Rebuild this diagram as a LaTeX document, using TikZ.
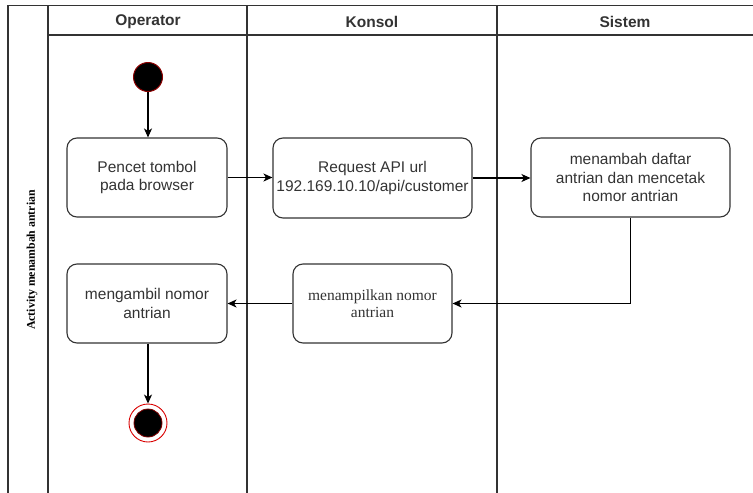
\documentclass[tikz,border=0pt]{standalone}
\usepackage{fontspec}
\setmainfont{Liberation Sans}
\newfontfamily\serifface{Liberation Serif}
\usetikzlibrary{arrows.meta}
\definecolor{linegray}{HTML}{333333}
\definecolor{textgray}{HTML}{333333}
\tikzset{
  lane/.style={draw=linegray, line width=1.2pt},
  actbox/.style={draw=linegray, line width=1.1pt, rounded corners=10pt, align=center,
    inner sep=0pt, text=textgray, font=\fontsize{15.5}{18.5}\selectfont},
  flow/.style={draw=black, line width=1.1pt, -{Stealth[length=9pt,width=8pt,inset=2.5pt]}},
  hdr/.style={font=\bfseries\fontsize{15.5}{18}\selectfont, text=black!80},
}
\begin{document}
\begin{tikzpicture}[x=1pt,y=-1pt]
\useasboundingbox (0,0) rectangle (753,493);
% swimlane frame
\draw[lane] (8,493) -- (8,5.5) -- (753,5.5);
\draw[lane] (48,35) -- (753,35);
\draw[lane] (48,5.5) -- (48,493);
\draw[lane] (247,5.5) -- (247,493);
\draw[lane] (497,5.5) -- (497,493);
% headers
\node[hdr] (hop) at (148,22) {Operator};
\node[hdr] (hko) at (372,22) {Konsol};
\node[hdr] (hsi) at (625,22) {Sistem};
\node[rotate=90, font=\serifface\bfseries\fontsize{11.8}{13}\selectfont] (pool) at (32,260) {Activity menambah antrian};
% start
\node[circle, fill=black, draw=red!55!black, line width=1pt, minimum size=29pt, inner sep=0pt] (start) at (148,77) {};
% boxes
\node[actbox, minimum width=160pt, minimum height=79pt] (b1) at (147,177.5) {Pencet tombol\\pada browser};
\node[actbox, minimum width=199pt, minimum height=80pt] (b2) at (372.5,178) {Request API url\\192.169.10.10/api/customer};
\node[actbox, minimum width=199pt, minimum height=79pt] (b3) at (630.5,177.5) {menambah daftar\\antrian dan mencetak\\nomor antrian};
\node[actbox, minimum width=159pt, minimum height=79pt, font=\serifface\fontsize{15.5}{17}\selectfont] (b4) at (372.5,303.5) {menampilkan nomor\\antrian};
\node[actbox, minimum width=160pt, minimum height=79pt] (b5) at (147,303.5) {mengambil nomor\\antrian};
% end
\node[circle, draw=red!85!black, line width=0.9pt, minimum size=38pt, inner sep=0pt] (end) at (148,423) {};
\node[circle, fill=black, draw=red!50!black, line width=0.8pt, minimum size=28pt, inner sep=0pt] (endin) at (end) {};
% flows
\draw[flow] (start.south) -- (b1.north -| start.south);
\draw[flow] (b1.east) -- (b2.west |- b1.east);
\draw[flow] (b2.east) -- (b3.west |- b2.east);
\draw[flow] (b3.south) |- (b4.east);
\draw[flow] (b4.west) -- (b5.east);
\draw[flow] (b5.south -| end.north) -- (end.north);
\end{tikzpicture}
\end{document}
